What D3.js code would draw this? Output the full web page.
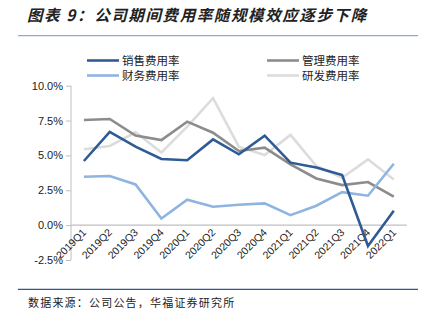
<!DOCTYPE html>
<html><head><meta charset="utf-8">
<script src="https://cdn.jsdelivr.net/npm/d3@7"></script>
<style>body{margin:0;background:#fff}svg{display:block}</style>
</head><body>
<svg id="c" width="427" height="322"></svg>
<script>
const categories = ["2019Q1","2019Q2","2019Q3","2019Q4","2020Q1","2020Q2","2020Q3","2020Q4","2021Q1","2021Q2","2021Q3","2021Q4","2022Q1"];
const seriesNames = ["销售费用率","管理费用率","财务费用率","研发费用率"];
const salesRate = [4.6,6.68,5.63,4.74,4.65,6.15,5.08,6.42,4.48,4.14,3.59,-1.49,1.03];
const adminRate = [7.54,7.61,6.42,6.1,7.42,6.63,5.32,5.56,4.36,3.35,2.87,3.09,2.04];
const financeRate = [3.47,3.52,2.92,0.48,1.82,1.32,1.46,1.56,0.72,1.39,2.37,2.11,4.40];
const rdRate = [5.44,5.68,6.66,5.2,7.06,9.1,5.63,5.03,6.47,4.24,3.4,4.72,3.28];
const yTicks = [-2.5,0,2.5,5,7.5,10];
const colors = ["#2F5B94","#8C8C8C","#8FB4E0","#DCDCDC"];

const svg = d3.select("#c");
const ff = "'Liberation Sans', Arial, sans-serif";
const cjk = "'Noto Sans CJK SC', sans-serif";

// title
svg.append("text").attr("x",27).attr("y",21)
  .attr("font-family",cjk).attr("font-size",15.5).attr("font-weight","bold").attr("font-style","italic")
  .attr("letter-spacing",1.6)
  .attr("fill","#222").text("图表 9：公司期间费用率随规模效应逐步下降");
svg.append("line").attr("x1",18).attr("x2",418).attr("y1",35.7).attr("y2",35.7)
  .attr("stroke","#8EAADB").attr("stroke-width",1.3);

const x = d3.scaleBand().domain(categories).range([71,406.7]);
const y = d3.scaleLinear().domain([-2.5,10]).range([260,85.7]);

// y axis
const yAxis = d3.axisLeft(y).tickValues(yTicks).tickSize(5).tickFormat(d=>d.toFixed(1)+"%");
const ga = svg.append("g").attr("transform","translate(71,0)").call(yAxis);
ga.select(".domain").attr("stroke","#BFBFBF").attr("d","M0,"+y(-2.5)+"V"+y(10));
ga.selectAll(".tick line").attr("stroke","#BFBFBF");
ga.selectAll("text").attr("font-family",ff).attr("font-size",11).attr("fill","#222").attr("x",-8);

// x axis at 0
svg.append("line").attr("x1",71).attr("x2",406.7).attr("y1",y(0)).attr("y2",y(0))
  .attr("stroke","#BFBFBF").attr("stroke-width",1.3);
svg.append("g").selectAll("text").data(categories).join("text")
  .attr("transform",d=>`translate(${x(d)+x.bandwidth()/2+3},${y(0)+8}) rotate(-45)`)
  .attr("text-anchor","end").attr("font-family",ff).attr("font-size",10.5).attr("fill","#222")
  .text(d=>d);

// lines
const data = [salesRate, adminRate, financeRate, rdRate];
const line = d3.line().x((d,i)=>x(categories[i])+x.bandwidth()/2).y(d=>y(d));
const order = [3,1,2,0];
order.forEach(k=>{
  svg.append("path").attr("d",line(data[k])).attr("fill","none")
    .attr("stroke",colors[k]).attr("stroke-width",2.6).attr("stroke-linejoin","miter");
});

// legend
const lg = [{x:87,y:60.5},{x:267,y:60.5},{x:87,y:75.5},{x:267,y:75.5}];
seriesNames.forEach((n,i)=>{
  const p = lg[i];
  svg.append("line").attr("x1",p.x).attr("x2",p.x+32).attr("y1",p.y).attr("y2",p.y)
    .attr("stroke",colors[i]).attr("stroke-width",2.6);
  svg.append("text").attr("x",p.x+35).attr("y",p.y+4).attr("font-family",cjk)
    .attr("font-size",11.5).attr("fill","#222").text(n);
});

// footer
svg.append("line").attr("x1",18).attr("x2",418).attr("y1",289.3).attr("y2",289.3)
  .attr("stroke","#2F5597").attr("stroke-width",1.3);
svg.append("text").attr("x",28).attr("y",307).attr("font-family",cjk)
  .attr("font-size",11).attr("letter-spacing",1.2).attr("fill","#222").text("数据来源：公司公告，华福证券研究所");
</script>
</body></html>
